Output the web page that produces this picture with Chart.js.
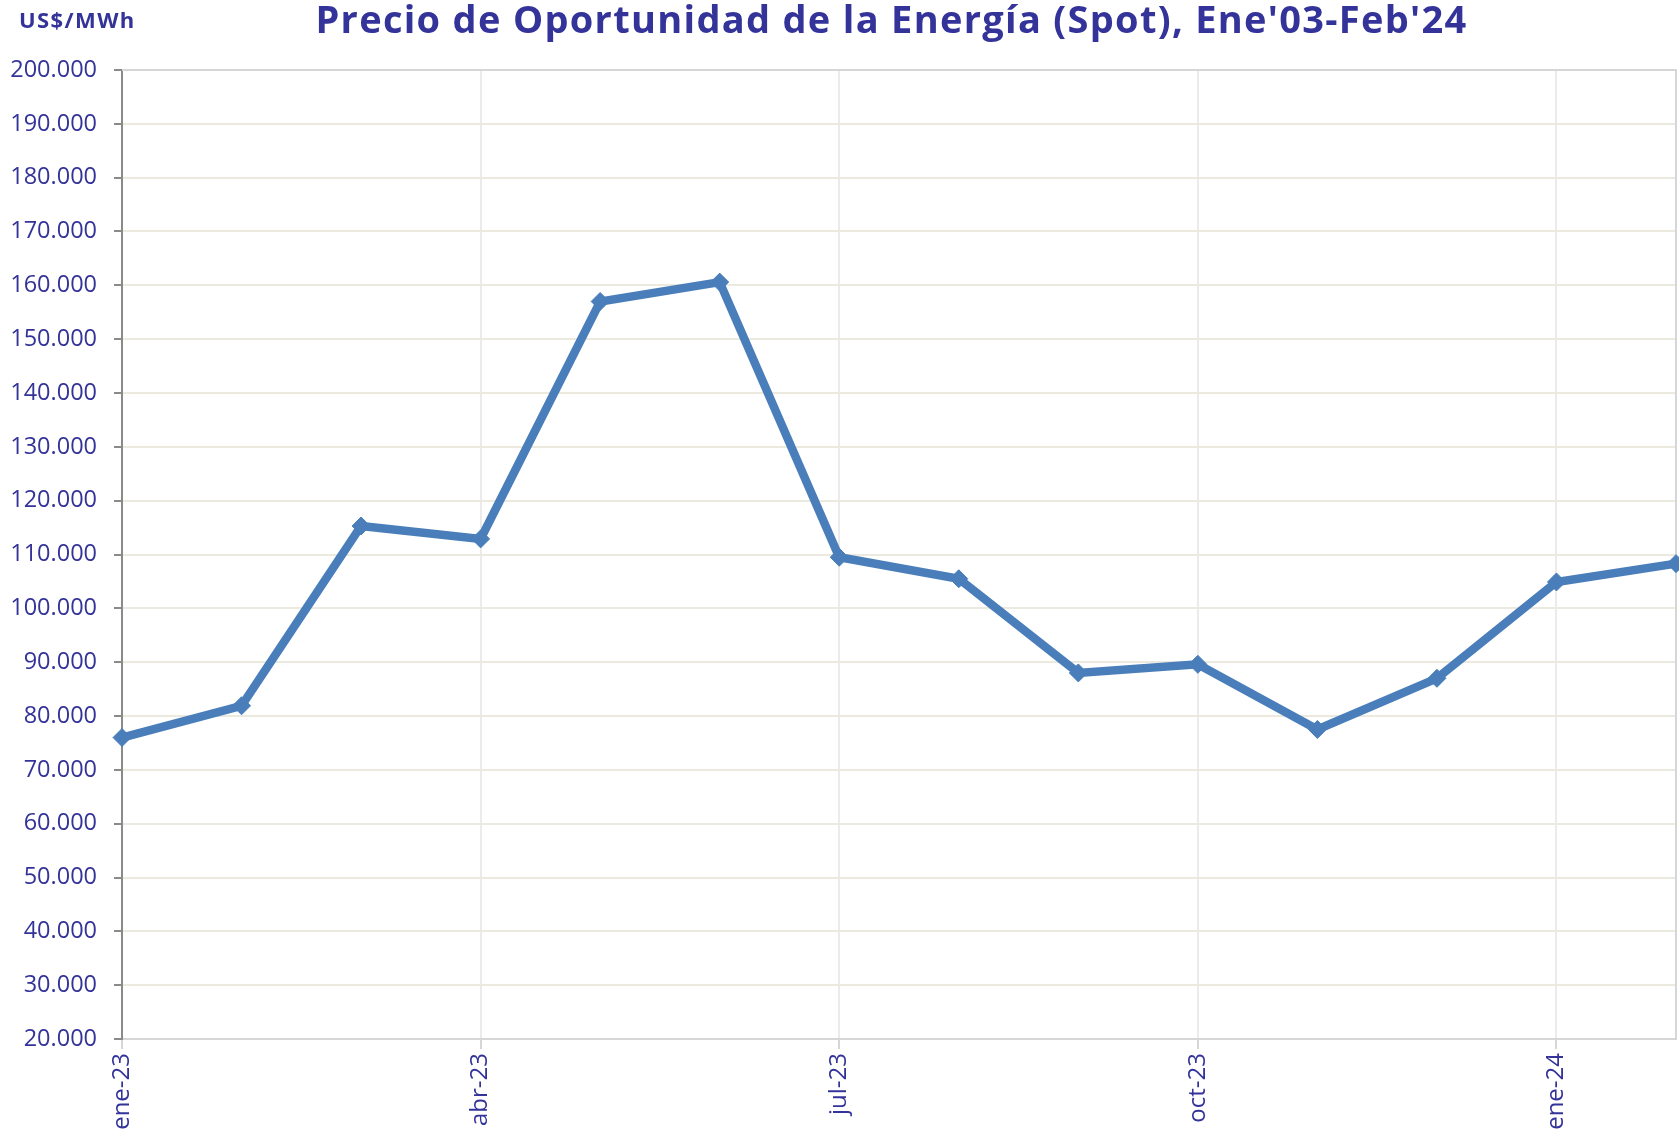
<!DOCTYPE html>
<html>
<head>
<meta charset="utf-8">
<script src="https://cdn.jsdelivr.net/npm/chart.js@4/dist/chart.umd.min.js"></script>
<style>
  body { margin: 0; background: #fff; overflow: hidden; }
  #wrap { position: relative; width: 1679px; height: 1135px; overflow: hidden; }
  #titulo { position: absolute; left: 0; width: 1679px; padding-left: 104px; box-sizing: border-box; top: -8px;
            text-align: center; font: bold 38px 'Open Sans', sans-serif; letter-spacing: 1.3px; color: #333399; }
  #unidad { position: absolute; left: 19px; top: 4px; font: bold 22px 'Open Sans', sans-serif; letter-spacing: 1.4px; color: #333399; }
  canvas { position: absolute; left: 0; top: 0; }
</style>
</head>
<body>
<div id="wrap">
  <canvas id="spot" width="1692" height="1135"></canvas>
  <div id="unidad">US$/MWh</div>
  <div id="titulo">Precio de Oportunidad de la Energía (Spot), Ene'03-Feb'24</div>
</div>
<script>
// Precio spot mensual, ene-23 .. feb-24 (US$/MWh)
const meses = ['ene-23', 'feb-23', 'mar-23', 'abr-23', 'may-23', 'jun-23', 'jul-23',
               'ago-23', 'sep-23', 'oct-23', 'nov-23', 'dic-23', 'ene-24', 'feb-24'];
const precioSpot = [76.0, 81.9, 115.3, 112.9, 157.0, 160.6, 109.5,
                    105.5, 88.0, 89.6, 77.5, 87.0, 104.9, 108.3];

const AZUL = '#4a7ebb';
const TEXTO = '#333399';
const FONT = "'Open Sans', sans-serif";

// borde superior y derecho del area de trazado
const bordeArea = {
    id: 'bordeArea',
    beforeDatasetsDraw(chart) {
        const { ctx, chartArea: a } = chart;
        ctx.save();
        ctx.strokeStyle = '#d6d6d6';
        ctx.lineWidth = 2;
        ctx.beginPath();
        ctx.moveTo(a.left, a.top);
        ctx.lineTo(a.right, a.top);
        ctx.lineTo(a.right, a.bottom);
        ctx.stroke();
        ctx.restore();
    },
};

new Chart(document.getElementById('spot'), {
    type: 'line',
    data: {
        labels: meses,
        datasets: [{
            data: precioSpot,
            borderColor: AZUL,
            backgroundColor: AZUL,
            borderWidth: 8.5,
            tension: 0,
            pointStyle: 'rectRot',
            pointRadius: 9,
            pointBorderWidth: 1,
            pointBorderColor: AZUL,
            pointBackgroundColor: AZUL,
            clip: false,
        }],
    },
    options: {
        responsive: false,
        animation: false,
        layout: { padding: { left: 0, top: 70, right: 16, bottom: 0 } },
        plugins: {
            legend: { display: false },
            title: { display: false },
            tooltip: { enabled: false },
        },
        scales: {
            x: {
                offset: false,
                afterFit: s => {
                    s.height = 96;
                    s.paddingLeft = 0;
                    s.paddingRight = 0;
                },
                grid: {
                    color: c => (c.index % 3 === 0 ? '#ebebeb' : 'rgba(0,0,0,0)'),
                    tickColor: c => (c.index % 3 === 0 ? '#d6d6d6' : 'rgba(0,0,0,0)'),
                    lineWidth: 2,
                    tickLength: 10,
                },
                border: { color: '#d6d6d6', width: 2 },
                ticks: {
                    autoSkip: false,
                    minRotation: 90,
                    maxRotation: 90,
                    padding: 4,
                    color: TEXTO,
                    font: { family: FONT, size: 24 },
                    callback: (v, i) => (i % 3 === 0 ? meses[i] : ''),
                },
            },
            y: {
                min: 20,
                max: 200,
                afterFit: s => { s.width = 122; },
                grid: {
                    color: c => (c.tick.value === 200 ? '#d6d6d6' : '#ece9df'),
                    tickColor: '#8a8a8a',
                    lineWidth: 2,
                    tickLength: 8,
                },
                border: { color: '#8a8a8a', width: 2 },
                ticks: {
                    stepSize: 10,
                    padding: 17,
                    color: TEXTO,
                    font: { family: FONT, size: 23.5 },
                    callback: v => v.toFixed(3),
                },
            },
        },
    },
    plugins: [bordeArea],
});
</script>
</body>
</html>
